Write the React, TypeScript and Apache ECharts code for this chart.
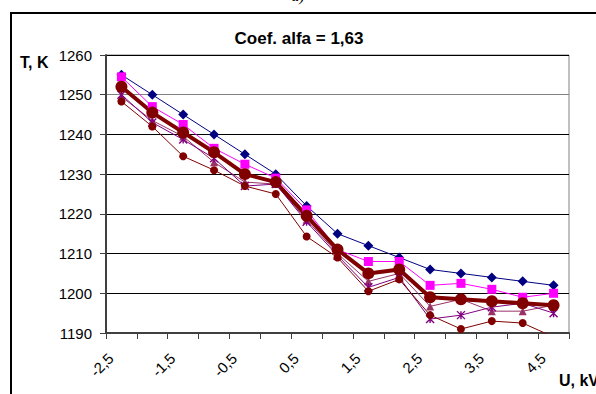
import React, { useEffect, useRef } from "react";
import * as echarts from "echarts";

const categories = ["-2,5", "-2", "-1,5", "-1", "-0,5", "0", "0,5", "1", "1,5", "2", "2,5", "3", "3,5", "4", "4,5"];

const navyDiamond = [1255, 1250, 1245, 1240, 1235, 1230, 1222, 1215, 1212, 1209, 1206, 1205, 1204, 1203, 1202];
const magentaSquare = [1254.5, 1247, 1242.5, 1236.5, 1232.5, 1229, 1221, 1211, 1208, 1208, 1202, 1202.5, 1201, 1199, 1200];
const mauveTriangle = [1249.5, 1243.5, 1239.5, 1233, 1228, 1227.5, 1218.5, 1210, 1203, 1205, 1196.7, 1198.5, 1195.5, 1195.5, 1197];
const purpleStar = [1250, 1243, 1238.7, 1234, 1227, 1227.5, 1218, 1209.5, 1201.5, 1204, 1193.5, 1194.5, 1196.5, 1197.5, 1195];
const thickCircle = [1252, 1245.5, 1240.5, 1235.5, 1230, 1228, 1219.5, 1211, 1205, 1206, 1199, 1198.5, 1198, 1197.5, 1197];
const thinCircle = [1248.3, 1242, 1234.5, 1231, 1227, 1225, 1214.3, 1209, 1200.5, 1203.5, 1194.5, 1191, 1193, 1192.5, 1189];

const yMin = 1190;
const yMax = 1260;
const yStep = 10;

const titleText = "Coef. alfa = 1,63";
const yName = "T, K";
const xName = "U, kV";

const FONT = 'Arial, "Liberation Sans", sans-serif';

export default function App() {
  const ref = useRef<HTMLDivElement>(null);
  useEffect(() => {
    if (!ref.current) return;
    const chart = echarts.init(ref.current, null, { renderer: "svg" });
    const mk = (name: string, data: number[], color: string, symbol: string, size: number, width: number) => ({
      name,
      type: "line",
      data,
      symbol,
      symbolSize: size,
      clip: true,
      lineStyle: { color, width },
      itemStyle: { color, borderColor: color, borderWidth: 0 },
      emphasis: { disabled: true },
    });
    chart.setOption({
      animation: false,
      backgroundColor: "#fff",
      grid: {
        left: 106,
        top: 55,
        right: 27,
        bottom: 61,
        containLabel: false,
        outerBoundsMode: "none",
        show: true,
        borderColor: "#808080",
        borderWidth: 1,
        backgroundColor: "transparent",
      },
      xAxis: {
        type: "category",
        data: categories,
        boundaryGap: true,
        axisLine: { lineStyle: { color: "#404040", width: 2 } },
        axisTick: { show: true, interval: 0, length: 6, inside: false, lineStyle: { color: "#404040", width: 1 } },
        axisLabel: {
          interval: 1,
          rotate: 45,
          margin: 12,
          padding: [0, 15, 0, 0],
          color: "#000",
          fontSize: 15,
          fontFamily: FONT,
        },
        splitLine: { show: false },
      },
      yAxis: {
        type: "value",
        min: yMin,
        max: yMax,
        interval: yStep,
        axisLine: { show: true, lineStyle: { color: "#404040", width: 2 } },
        axisTick: { show: true, length: 6, lineStyle: { color: "#404040", width: 1 } },
        axisLabel: { margin: 14, color: "#000", fontSize: 15, fontFamily: FONT, formatter: (v: number) => String(v) },
        splitLine: {
          show: true,
          lineStyle: { color: ["#000", "#000", "#000", "#000", "#000", "#000", "#808080"], width: 1 },
        },
      },
      series: [
        mk("s1", navyDiamond, "#000080", "diamond", 10, 1),
        mk("s2", magentaSquare, "#FF00FF", "rect", 9, 1),
        mk("s3", mauveTriangle, "#993366", "triangle", 8, 1),
        {
          ...mk("s4", purpleStar, "#800080", "path://M0,0L10,10M10,0L0,10M5,0L5,10", 8, 1),
          itemStyle: { color: "#800080", borderColor: "#800080", borderWidth: 1.4 },
        },
        mk("s5", thickCircle, "#800000", "circle", 12, 4),
        mk("s6", thinCircle, "#800000", "circle", 8, 1),
      ],
      graphic: [
        {
          type: "rect",
          shape: { x: 11, y: 13, width: 700, height: 500 },
          style: { fill: "none", stroke: "#000", lineWidth: 2 },
          silent: true,
        },
        {
          type: "text",
          x: 298,
          y: 3,
          style: { text: "a)", font: "italic 16px 'Liberation Serif', serif", fill: "#000", textAlign: "center", textVerticalAlign: "bottom" },
          silent: true,
        },
        {
          type: "text",
          x: 299,
          y: 38.5,
          style: { text: titleText, font: `bold 17px ${FONT}`, fill: "#000", textAlign: "center", textVerticalAlign: "middle" },
          silent: true,
        },
        {
          type: "text",
          x: 20,
          y: 62,
          style: { text: yName, font: `bold 16px ${FONT}`, fill: "#000", textAlign: "left", textVerticalAlign: "middle" },
          silent: true,
        },
        {
          type: "text",
          x: 559,
          y: 380,
          style: { text: xName, font: `bold 16px ${FONT}`, fill: "#000", textAlign: "left", textVerticalAlign: "middle" },
          silent: true,
        },
      ],
    });
    return () => chart.dispose();
  }, []);
  return <div ref={ref} style={{ position: "fixed", left: 0, top: 0, width: 596, height: 394 }} />;
}
